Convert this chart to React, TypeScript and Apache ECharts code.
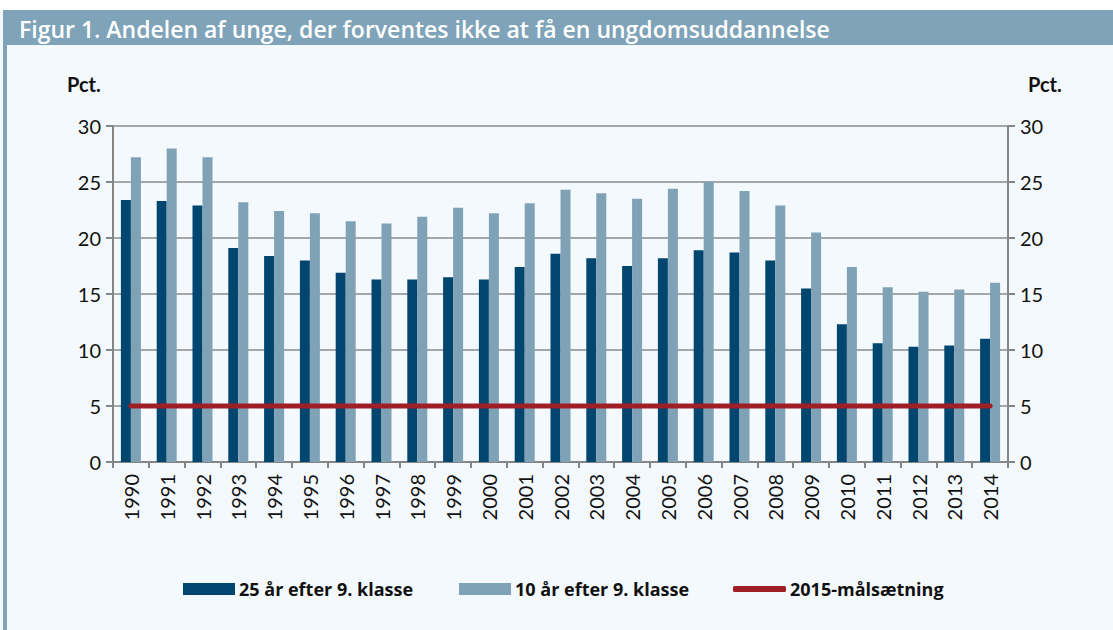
import React, { useEffect, useRef } from "react";
import * as echarts from "echarts";

const years = ["1990","1991","1992","1993","1994","1995","1996","1997","1998","1999","2000","2001","2002","2003","2004","2005","2006","2007","2008","2009","2010","2011","2012","2013","2014"];
const after25 = [23.4,23.3,22.9,19.1,18.4,18.0,16.9,16.3,16.3,16.5,16.3,17.4,18.6,18.2,17.5,18.2,18.9,18.7,18.0,15.5,12.3,10.6,10.3,10.4,11.0];
const after10 = [27.2,28.0,27.2,23.2,22.4,22.2,21.5,21.3,21.9,22.7,22.2,23.1,24.3,24.0,23.5,24.4,25.0,24.2,22.9,20.5,17.4,15.6,15.2,15.4,16.0];
const target2015 = [5,5,5,5,5,5,5,5,5,5,5,5,5,5,5,5,5,5,5,5,5,5,5,5,5];
const seriesNames = ["25 år efter 9. klasse", "10 år efter 9. klasse", "2015-målsætning"];
const title = "Figur 1. Andelen af unge, der forventes ikke at få en ungdomsuddannelse";
const unitLabel = "Pct.";

const FONT = "Lato, 'Open Sans', sans-serif";
const WIDE = "'Open Sans', Lato, sans-serif";

export default function App() {
  const ref = useRef<HTMLDivElement>(null);
  useEffect(() => {
    if (!ref.current) return;
    const chart = echarts.init(ref.current, null, { renderer: "svg" });
    const yAxisCommon = {
      type: "value" as const,
      min: 0,
      max: 30,
      interval: 5,
      axisLine: { show: true, lineStyle: { color: "#858585", width: 2 } },
      axisTick: { show: true, inside: false, length: 7, lineStyle: { color: "#858585", width: 2 } },
      axisLabel: { color: "#111", fontSize: 20, fontFamily: FONT, margin: 12 },
    };
    const legendText = { fontSize: 18, fontWeight: "bold", color: "#111", fontFamily: WIDE, padding: [0, 0, 0, -1] };
    chart.setOption({
      animation: false,
      backgroundColor: "#f4f9fd",
      textStyle: { fontFamily: FONT },
      grid: { left: 113, right: 105, top: 126, bottom: 168, containLabel: false },
      graphic: [
        { type: "rect", shape: { x: 0, y: 0, width: 1113, height: 10 }, style: { fill: "#ffffff" }, silent: true },
        { type: "rect", shape: { x: 3, y: 10, width: 1110, height: 35 }, style: { fill: "#7fa3b8" }, silent: true },
        { type: "rect", shape: { x: 3, y: 10, width: 4, height: 620 }, style: { fill: "#7fa3b8" }, silent: true },
        { type: "text", x: 19, y: 29, style: { text: title, fill: "#ffffff", font: `600 23px ${WIDE}`, verticalAlign: "middle" } },
        { type: "text", x: 67, y: 84, style: { text: unitLabel, fill: "#111", font: `bold 20px ${FONT}`, verticalAlign: "middle" } },
        { type: "text", x: 1028, y: 84, style: { text: unitLabel, fill: "#111", font: `bold 20px ${FONT}`, verticalAlign: "middle" } },
      ],
      legend: [
        {
          left: 183,
          top: 580,
          padding: 0,
          itemGap: 46,
          itemWidth: 52,
          itemHeight: 12,
          textStyle: legendText,
          data: [
            { name: seriesNames[0], icon: "rect" },
            { name: seriesNames[1], icon: "rect" },
          ],
        },
        {
          left: 733,
          top: 580,
          padding: 0,
          itemWidth: 53,
          itemHeight: 6,
          textStyle: legendText,
          data: [{ name: seriesNames[2], icon: "roundRect" }],
        },
      ],
      xAxis: {
        type: "category",
        data: years,
        boundaryGap: true,
        axisLine: { lineStyle: { color: "#858585", width: 2 } },
        axisTick: { show: true, length: 6, interval: 0, lineStyle: { color: "#858585", width: 2 } },
        axisLabel: { rotate: 90, interval: 0, color: "#111", fontSize: 20, fontFamily: FONT, margin: 12 },
      },
      yAxis: [
        { ...yAxisCommon, position: "left", splitLine: { show: true, lineStyle: { color: "#8a8a8a", width: 1.5 } } },
        { ...yAxisCommon, position: "right", splitLine: { show: false } },
      ],
      series: [
        { name: seriesNames[0], type: "bar", data: after25, barWidth: 10, barGap: "0%", itemStyle: { color: "#00466e" } },
        { name: seriesNames[1], type: "bar", data: after10, barWidth: 10, barGap: "0%", itemStyle: { color: "#7fa2b7" } },
        {
          name: seriesNames[2], type: "line", data: target2015, symbol: "none",
          lineStyle: { color: "#a01f27", width: 5, cap: "round" }, itemStyle: { color: "#a01f27" },
        },
      ],
    });
    return () => chart.dispose();
  }, []);
  return <div ref={ref} style={{ position: "fixed", left: 0, top: 0, width: 1113, height: 630 }} />;
}
